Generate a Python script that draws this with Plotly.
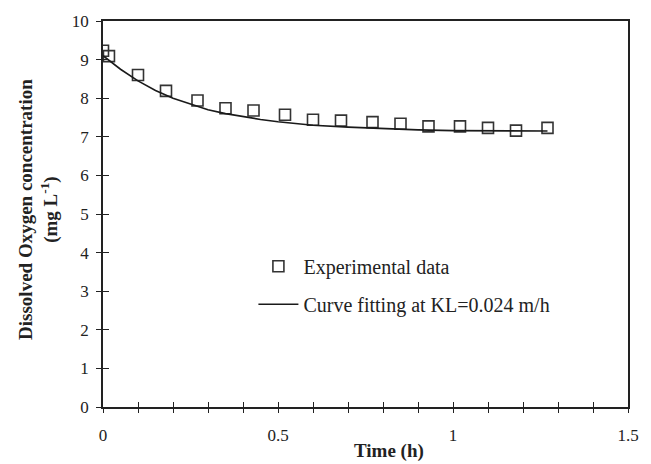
import plotly.graph_objects as go

# Experimental data (time in h, DO in mg/L)
exp_time = [0.0, 0.017, 0.10, 0.18, 0.27, 0.35, 0.43, 0.52, 0.60, 0.68, 0.77, 0.85, 0.93, 1.02, 1.10, 1.18, 1.27]
exp_do = [9.23, 9.09, 8.60, 8.19, 7.94, 7.74, 7.68, 7.57, 7.44, 7.42, 7.38, 7.34, 7.27, 7.27, 7.23, 7.16, 7.23]

# Fitted curve
fit_time = [0.0, 0.05, 0.10, 0.15, 0.20, 0.25, 0.30, 0.35, 0.40, 0.45, 0.50, 0.55, 0.60, 0.70, 0.80, 0.90, 1.00, 1.10, 1.20, 1.27]
fit_do = [9.10, 8.75, 8.45, 8.20, 8.00, 7.84, 7.70, 7.60, 7.52, 7.45, 7.39, 7.34, 7.30, 7.25, 7.21, 7.18, 7.16, 7.15, 7.15, 7.15]

x_tickvals = [0, 0.5, 1, 1.5]
x_ticktext = ["0", "0.5", "1", "1.5"]

FONT = "Liberation Serif"
AX = "#222222"

fig = go.Figure()
fig.add_trace(go.Scatter(
    x=exp_time, y=exp_do, mode="markers", name="Experimental data",
    marker=dict(symbol="square-open", size=11, color="#333333", line=dict(width=1.6, color="#333333")),
    legendgroup="a"))
fig.add_trace(go.Scatter(
    x=fit_time, y=fit_do, mode="lines", name="Curve fitting at KL=0.024 m/h",
    line=dict(color="#1a1a1a", width=1.6), legendgroup="b"))
# invisible trace to anchor overlay axes (outside tick halves)
fig.add_trace(go.Scatter(x=[0.5], y=[5], xaxis="x2", yaxis="y2", mode="markers",
                         marker=dict(opacity=0), showlegend=False, hoverinfo="skip"))

axis_common = dict(showgrid=False, zeroline=False, tickwidth=1.3, tickcolor=AX)

fig.update_layout(
    width=651, height=464,
    margin=dict(l=103, r=14, t=17, b=57),
    paper_bgcolor="white", plot_bgcolor="white",
    font=dict(family=FONT, size=17, color="#222222"),
    xaxis=dict(range=[0, 1.5], tickvals=x_tickvals, ticktext=x_ticktext,
               ticks="inside", ticklen=5, showline=True, linecolor=AX, linewidth=1.5,
               mirror=True, minor=dict(dtick=0.1, tick0=0, ticks="inside", ticklen=5, tickcolor=AX, tickwidth=1.3),
               tickfont=dict(family=FONT, size=17), ticklabelstandoff=12, **axis_common),
    yaxis=dict(range=[0, 10], dtick=1, ticks="inside", ticklen=6, showline=True,
               linecolor=AX, linewidth=1.5, mirror=True,
               tickfont=dict(family=FONT, size=17), ticklabelstandoff=9, **axis_common),
    xaxis2=dict(range=[0, 1.5], overlaying="x", anchor="y2", side="bottom", tickvals=x_tickvals,
                ticks="outside", ticklen=5, showticklabels=False, showline=False,
                minor=dict(dtick=0.1, tick0=0, ticks="outside", ticklen=5, tickcolor=AX, tickwidth=1.3),
                **axis_common),
    yaxis2=dict(range=[0, 10], overlaying="y", anchor="x2", dtick=1, ticks="outside", ticklen=6,
                showticklabels=False, showline=False, side="left", **axis_common),
    legend=dict(x=0.2865, y=0.415, xanchor="left", yanchor="top", bgcolor="rgba(0,0,0,0)",
                font=dict(family=FONT, size=20, color="#222222"), itemwidth=40,
                traceorder="grouped", tracegroupgap=9),
    showlegend=True,
)

fig.add_annotation(text="<b>Time (h)</b>", xref="paper", yref="paper", x=0.545, y=-0.115,
                   xanchor="center", yanchor="middle", showarrow=False,
                   font=dict(family=FONT, size=19, color="#222222"))
fig.add_annotation(text="<b>Dissolved Oxygen concentration</b><br><b>(mg L<sup>-1</sup>)</b>",
                   xref="paper", yref="paper", x=-0.122, y=0.513, textangle=-90,
                   xanchor="center", yanchor="middle", showarrow=False,
                   font=dict(family=FONT, size=19, color="#222222"))

fig.write_html("out.html")
